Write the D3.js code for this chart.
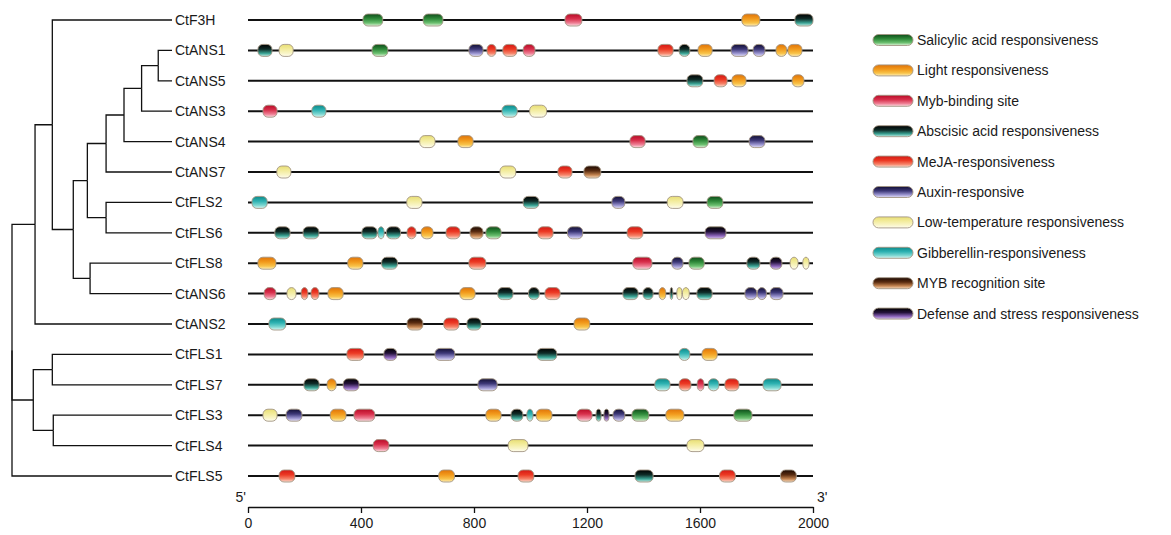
<!DOCTYPE html>
<html>
<head>
<meta charset="utf-8">
<script src="https://cdn.jsdelivr.net/npm/d3@7/dist/d3.min.js"></script>
<style>
  body { margin: 0; background: #fff; }
  text { font-family: "Liberation Sans", Arial, sans-serif; fill: #1a1a1a; }
</style>
</head>
<body>
<div id="chart"></div>
<script>
// genes, in the order of the tree leaves
const genes = ["CtF3H", "CtANS1", "CtANS5", "CtANS3", "CtANS4", "CtANS7", "CtFLS2", "CtFLS6",
    "CtFLS8", "CtANS6", "CtANS2", "CtFLS1", "CtFLS7", "CtFLS3", "CtFLS4", "CtFLS5"];

// tree: [node, parent, relative height of the node (leaves = 1)]
const treeNodes = [
    ["root", null, 0], ["A", "root", 0.144], ["B", "A", 0.252], ["C", "B", 0.383],
    ["D", "C", 0.471], ["F", "D", 0.588], ["H", "F", 0.70], ["I", "H", 0.81], ["J", "I", 0.914],
    ["G", "D", 0.588], ["E", "C", 0.488], ["K", "root", 0.133], ["L", "K", 0.252], ["M", "K", 0.258],
    ["CtF3H", "B", 1], ["CtANS1", "J", 1], ["CtANS5", "J", 1], ["CtANS3", "I", 1], ["CtANS4", "H", 1],
    ["CtANS7", "F", 1], ["CtFLS2", "G", 1], ["CtFLS6", "G", 1], ["CtFLS8", "E", 1], ["CtANS6", "E", 1],
    ["CtANS2", "A", 1], ["CtFLS1", "L", 1], ["CtFLS7", "L", 1], ["CtFLS3", "M", 1], ["CtFLS4", "M", 1],
    ["CtFLS5", "root", 1]
];

// cis-element categories (legend order)
const motifKeys = ["SA", "LR", "MYB", "ABA", "MeJA", "AUX", "LTR", "GA", "MYBR", "DEF"];
const motifNames = ["Salicylic acid responsiveness", "Light responsiveness", "Myb-binding site",
    "Abscisic acid responsiveness", "MeJA-responsiveness", "Auxin-responsive",
    "Low-temperature responsiveness", "Gibberellin-responsiveness", "MYB recognition site",
    "Defense and stress responsiveness"];
// gradient top / middle / lower / bottom highlight for each category
const motifColors = [
    ["#0f4d1a", "#2f8a3a", "#6cc070", "#e2f3dc"],
    ["#e07408", "#f29a1c", "#f8c34a", "#fff0be"],
    ["#b80c28", "#d8304c", "#ee7f94", "#fde0e6"],
    ["#000000", "#0f2c28", "#3aa494", "#c8ede6"],
    ["#d41814", "#ec3a24", "#f6846a", "#fde2d6"],
    ["#120f34", "#3d3878", "#9a94d0", "#e6e3f6"],
    ["#e8de74", "#f3ec9e", "#f9f5c8", "#fffdf0"],
    ["#0c8a8a", "#2eb2b2", "#7fd8d2", "#dcf6f2"],
    ["#1c0902", "#5a2c10", "#c48450", "#f7dcc0"],
    ["#000000", "#24123a", "#8a62b8", "#d8c4ee"]
];

// promoter elements: [category, start bp, end bp]
const sitesF3H = [["SA", 407, 477], ["SA", 620, 690], ["MYB", 1122, 1182], ["LR", 1748, 1812], ["ABA", 1936, 2000]];
const sitesANS1 = [["ABA", 35, 85], ["LTR", 110, 160], ["SA", 439, 495], ["AUX", 782, 832], ["MeJA", 846, 878],
    ["MeJA", 902, 952], ["MYB", 974, 1016], ["MeJA", 1451, 1505], ["ABA", 1526, 1564], ["LR", 1593, 1643],
    ["AUX", 1710, 1770], ["AUX", 1788, 1830], ["LR", 1869, 1907], ["LR", 1911, 1961]];
const sitesANS5 = [["ABA", 1554, 1610], ["MeJA", 1650, 1696], ["LR", 1713, 1763], ["LR", 1926, 1968]];
const sitesANS3 = [["MYB", 53, 103], ["GA", 226, 276], ["GA", 899, 953], ["LTR", 997, 1057]];
const sitesANS4 = [["LTR", 608, 662], ["LR", 743, 797], ["MYB", 1352, 1406], ["SA", 1575, 1629], ["AUX", 1774, 1830]];
const sitesANS7 = [["LTR", 102, 152], ["LTR", 892, 948], ["MeJA", 1097, 1147], ["MYBR", 1189, 1249]];
const sitesFLS2 = [["GA", 14, 68], ["LTR", 562, 616], ["ABA", 974, 1030], ["AUX", 1288, 1334],
    ["LTR", 1484, 1540], ["SA", 1625, 1681]];
const sitesFLS6 = [["ABA", 95, 149], ["ABA", 195, 251], ["ABA", 403, 457], ["GA", 460, 482], ["ABA", 490, 540],
    ["MeJA", 563, 595], ["LR", 613, 655], ["MeJA", 701, 751], ["MYBR", 786, 832], ["SA", 842, 896],
    ["MeJA", 1026, 1080], ["AUX", 1131, 1185], ["MeJA", 1342, 1398], ["DEF", 1618, 1692]];
const sitesFLS8 = [["LR", 35, 99], ["LR", 353, 407], ["ABA", 473, 529], ["MeJA", 782, 842], ["MYB", 1362, 1430],
    ["AUX", 1500, 1540], ["SA", 1561, 1615], ["ABA", 1766, 1812], ["DEF", 1848, 1890], ["LTR", 1919, 1947],
    ["LTR", 1964, 1986]];
const sitesANS6 = [["MYB", 57, 99], ["LTR", 138, 170], ["MeJA", 188, 212], ["MeJA", 223, 251], ["LR", 283, 337],
    ["LR", 750, 804], ["ABA", 884, 938], ["ABA", 993, 1031], ["MeJA", 1051, 1105], ["ABA", 1327, 1381],
    ["ABA", 1398, 1434], ["LR", 1455, 1479], ["ABA", 1494, 1504], ["LTR", 1518, 1536], ["LTR", 1538, 1562],
    ["ABA", 1589, 1643], ["AUX", 1759, 1801], ["AUX", 1803, 1835], ["AUX", 1848, 1894]];
const sitesANS2 = [["GA", 74, 134], ["MYBR", 563, 619], ["MeJA", 693, 747], ["ABA", 775, 825], ["LR", 1154, 1210]];
const sitesFLS1 = [["MeJA", 350, 410], ["DEF", 481, 527], ["AUX", 662, 732], ["ABA", 1023, 1093],
    ["GA", 1526, 1564], ["LR", 1607, 1661]];
const sitesFLS7 = [["ABA", 198, 252], ["LR", 280, 312], ["DEF", 337, 393], ["AUX", 814, 882], ["GA", 1440, 1494],
    ["MeJA", 1526, 1568], ["MYB", 1590, 1614], ["GA", 1629, 1667], ["MeJA", 1688, 1738], ["GA", 1823, 1887]];
const sitesFLS3 = [["LTR", 53, 103], ["AUX", 135, 191], ["LR", 291, 347], ["MYB", 375, 449], ["LR", 842, 896],
    ["ABA", 931, 973], ["GA", 987, 1009], ["LR", 1020, 1076], ["MYB", 1164, 1218], ["ABA", 1232, 1250],
    ["DEF", 1260, 1278], ["AUX", 1292, 1334], ["SA", 1359, 1419], ["LR", 1479, 1543], ["SA", 1720, 1784]];
const sitesFLS4 = [["MYB", 443, 499], ["LTR", 921, 991], ["LTR", 1554, 1614]];
const sitesFLS5 = [["MeJA", 110, 166], ["LR", 675, 731], ["MeJA", 956, 1012], ["ABA", 1370, 1434],
    ["MeJA", 1669, 1725], ["MYBR", 1885, 1941]];

const geneSites = [sitesF3H, sitesANS1, sitesANS5, sitesANS3, sitesANS4, sitesANS7, sitesFLS2, sitesFLS6,
    sitesFLS8, sitesANS6, sitesANS2, sitesFLS1, sitesFLS7, sitesFLS3, sitesFLS4, sitesFLS5];

const axisTicks = [0, 400, 800, 1200, 1600, 2000];

const width = 1171, height = 535,
    glyphHeight = 12,
    legendGlyphWidth = 40;

const svg = d3.select("#chart").append("svg")
    .attr("width", width)
    .attr("height", height);

const defs = svg.append("defs");
const stopOffsets = ["0%", "40%", "75%", "100%"];
motifKeys.forEach((k, i) => {
    const grad = defs.append("linearGradient")
        .attr("id", "grad-" + k)
        .attr("x1", 0).attr("y1", 0).attr("x2", 0).attr("y2", 1);
    stopOffsets.forEach((o, j) => {
        grad.append("stop").attr("offset", o).attr("stop-color", motifColors[i][j]);
    });
});

const x = d3.scaleLinear().domain([0, 2000]).range([248, 813]);
const y = d3.scalePoint().domain(genes).range([20, 476]);
const treeX = d3.scaleLinear().domain([0, 1]).range([12, 172]);

// ---- dendrogram
const root = d3.stratify().id(d => d[0]).parentId(d => d[1])(treeNodes);
root.eachAfter(n => {
    n.px = treeX(n.data[2]);
    n.py = n.children
        ? (d3.min(n.children, c => c.py) + d3.max(n.children, c => c.py)) / 2
        : y(n.id);
});

svg.append("g")
    .selectAll("path")
    .data(root.links())
    .enter().append("path")
    .attr("d", l => "M" + l.source.px + "," + l.source.py + "V" + l.target.py + "H" + l.target.px)
    .style("fill", "none")
    .style("stroke", "#111")
    .style("stroke-width", 1.3);

svg.append("g")
    .selectAll("text")
    .data(genes)
    .enter().append("text")
    .attr("x", 175)
    .attr("y", d => y(d))
    .attr("dy", "0.36em")
    .style("font-size", "14px")
    .text(d => d);

// ---- promoter lines and elements
const rows = svg.append("g")
    .selectAll("g")
    .data(geneSites)
    .enter().append("g")
    .attr("transform", (d, i) => "translate(0," + y(genes[i]) + ")");

rows.append("line")
    .attr("x1", x(0))
    .attr("x2", x(2000))
    .style("stroke", "#111")
    .style("stroke-width", 2);

rows.selectAll("rect")
    .data(d => d)
    .enter().append("rect")
    .attr("x", d => x(d[1]))
    .attr("y", -glyphHeight / 2)
    .attr("width", d => x(d[2]) - x(d[1]))
    .attr("height", glyphHeight)
    .attr("rx", d => Math.min(5, (x(d[2]) - x(d[1])) / 2))
    .attr("ry", 5)
    .style("fill", d => "url(#grad-" + d[0] + ")")
    .style("stroke", "#a39583")
    .style("stroke-width", 0.9);

// ---- scale axis
const axis = svg.append("g")
    .attr("transform", "translate(0,507)")
    .call(d3.axisBottom(x).tickValues(axisTicks).tickSize(6).tickSizeOuter(0).tickFormat(d3.format("d")));
axis.select(".domain").style("stroke", "#111").style("stroke-width", 1.5);
axis.selectAll(".tick line").style("stroke", "#111").style("stroke-width", 1.3);
axis.selectAll(".tick text")
    .attr("y", 11)
    .style("font-size", "14px")
    .style("font-family", "'Liberation Sans', Arial, sans-serif")
    .style("fill", "#1a1a1a");

svg.append("text")
    .attr("x", x(0) - 2)
    .attr("y", 502)
    .attr("text-anchor", "end")
    .style("font-size", "14px")
    .text("5'");
svg.append("text")
    .attr("x", x(2000) + 4)
    .attr("y", 502)
    .style("font-size", "14px")
    .text("3'");

// ---- legend
const legend = svg.append("g")
    .attr("transform", "translate(873, 40)");

const legendItems = legend.selectAll("g")
    .data(motifKeys)
    .enter().append("g")
    .attr("transform", (d, i) => "translate(0," + (i * 30.4) + ")");

legendItems.append("rect")
    .attr("x", 0)
    .attr("y", -5.5)
    .attr("width", legendGlyphWidth)
    .attr("height", 11)
    .attr("rx", 5.5)
    .style("fill", d => "url(#grad-" + d + ")")
    .style("stroke", "#a39583")
    .style("stroke-width", 0.9);

legendItems.append("text")
    .attr("x", legendGlyphWidth + 4)
    .attr("dy", "0.36em")
    .style("font-size", "14px")
    .text((d, i) => motifNames[i]);
</script>
</body>
</html>
